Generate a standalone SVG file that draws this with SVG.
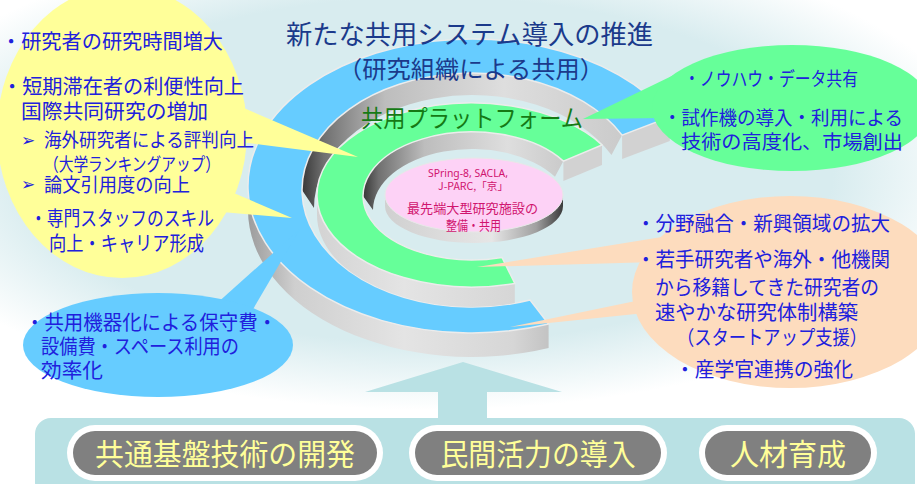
<svg xmlns="http://www.w3.org/2000/svg" width="917" height="484" viewBox="0 0 917 484">
<defs>
<style>
.jp{font-family:"Noto Sans CJK JP","Noto Sans",sans-serif;}
.bt{fill:#2020dd;font-size:20px;}
.tail{stroke:none;}
.face{stroke:#ececec;stroke-width:1.5;}
.btn-o{fill:#ffffff;}
.btn-i{fill:#808080;}
.btn-t{fill:#ffff99;font-size:30px;text-anchor:middle;}
.bul{font-family:"DejaVu Sans",sans-serif;font-size:17px;fill:#2020dd;}
</style>
<radialGradient id="bg" cx="0.5" cy="0.5" r="0.5">
<stop offset="0" stop-color="#d8ecef"/>
<stop offset="0.72" stop-color="#d8ecef"/>
<stop offset="1" stop-color="#ffffff"/>
</radialGradient>
<linearGradient id="owall" gradientUnits="userSpaceOnUse" x1="248" y1="0" x2="560" y2="0">
<stop offset="0" stop-color="#9c9c9c"/>
<stop offset="0.15" stop-color="#cfcfcf"/>
<stop offset="0.5" stop-color="#e4e4e4"/>
<stop offset="0.85" stop-color="#d6d6d6"/>
<stop offset="1" stop-color="#bdbdbd"/>
</linearGradient>
<linearGradient id="iwallB" gradientUnits="userSpaceOnUse" x1="300" y1="0" x2="640" y2="0">
<stop offset="0" stop-color="#333333"/>
<stop offset="0.07" stop-color="#707070"/>
<stop offset="0.25" stop-color="#bdbdbd"/>
<stop offset="0.6" stop-color="#dedede"/>
<stop offset="1" stop-color="#c8c8c8"/>
</linearGradient>
<linearGradient id="iwallG" gradientUnits="userSpaceOnUse" x1="362" y1="0" x2="570" y2="0">
<stop offset="0" stop-color="#333333"/>
<stop offset="0.08" stop-color="#707070"/>
<stop offset="0.3" stop-color="#bdbdbd"/>
<stop offset="0.7" stop-color="#dedede"/>
<stop offset="1" stop-color="#c8c8c8"/>
</linearGradient>
<linearGradient id="dwall" gradientUnits="userSpaceOnUse" x1="385" y1="0" x2="563" y2="0">
<stop offset="0" stop-color="#d0d0d0"/>
<stop offset="0.6" stop-color="#e6e6e6"/>
<stop offset="0.85" stop-color="#a0a0a0"/>
<stop offset="1" stop-color="#3a3a3a"/>
</linearGradient>
<clipPath id="holeB"><ellipse cx="472" cy="190" rx="170" ry="117"/></clipPath>
</defs>

<g id="background">
<rect x="0" y="0" width="917" height="484" fill="#ffffff"/>
<ellipse cx="430" cy="170" rx="560" ry="240" fill="url(#bg)"/>
</g>

<g id="panel">
<rect x="35" y="418" width="880" height="80" rx="16" fill="#b9e1e4"/>
</g>

<g id="rings">
<g id="ring-blue">
<path d="M548.6,324.1 A224,147 0 0 1 248,186 L248,210 A224,147 0 0 0 548.6,348.1 Z" fill="url(#owall)"/>
<path d="M302,190 A170,117 0 0 1 622.1,135.1 L611.5,155 A158,113 0 0 0 314,208 Z" fill="url(#iwallB)"/>
<path d="M622.1,135.1 L669.8,117 L669.8,141 L622.1,159.1 Z" fill="#d2d2d2"/>
<path class="face" d="M669.8,117 A224,147 0 1 0 548.6,324.1 L530.1,300 A170,117 0 1 1 622.1,135.1 Z" fill="#66ccff"/>
</g>
<g id="ring-green" clip-path="url(#holeB)">
<path d="M514.8,283.4 A155,92 0 0 1 317,195 L317,215 A155,92 0 0 0 514.8,303.4 Z" fill="url(#owall)"/>
<path d="M363,196 A109,64 0 0 1 563.4,161.1 L555,176.8 A99,61 0 0 0 373,210 Z" fill="url(#iwallG)"/>
<path d="M563.4,161.1 L602,144.9 L602,164.9 L563.4,181.1 Z" fill="#d2d2d2"/>
<path class="face" d="M602,144.9 A155,92 0 1 0 514.8,283.4 L502,257.5 A109,64 0 1 1 563.4,161.1 Z" fill="#66ff99"/>
</g>
<g id="disk">
<path d="M385,195 A89,37 0 0 0 563,195 L563,206 A89,37 0 0 1 385,206 Z" fill="url(#dwall)"/>
<ellipse cx="474" cy="195" rx="89" ry="37" fill="#fdd2f6" stroke="#e8e8e8" stroke-width="1"/>
<g class="jp" fill="#d0146e">
<text x="428" y="177" font-family="'Noto Sans','DejaVu Sans',sans-serif" font-size="10.5" textLength="80" lengthAdjust="spacingAndGlyphs">SPring-8, SACLA,</text>
<text x="438" y="190" font-size="10.5" textLength="70" lengthAdjust="spacingAndGlyphs">J-PARC,「京」</text>
<text x="407" y="213" font-size="13" textLength="131" lengthAdjust="spacingAndGlyphs">最先端大型研究施設の</text>
<text x="446" y="230" font-size="13" textLength="55" lengthAdjust="spacingAndGlyphs">整備・共用</text>
</g>
</g>
</g>

<g id="connectors">
<polygon class="tail" points="225,100 358,157 225,140" fill="#ffff99"/>
<polygon class="tail" points="222,188 292,218 222,212" fill="#ffff99"/>
<polygon class="tail" points="215,305 300,229 252,311" fill="#66ccff"/>
<polygon class="tail" points="680,72 583,119 665,118" fill="#66ff99"/>
<polygon class="tail" points="668,236 477,267 655,262" fill="#fddcbe"/>
<polygon class="tail" points="655,297 510,327 655,312" fill="#fddcbe"/>
<polygon id="up-arrow" points="463,362 562,392 487,392 487,420 438,420 438,392 365,392" fill="#b9e1e4"/>
</g>

<g id="title" class="jp">
<text x="286" y="44" font-size="26" fill="#1b3a8b" textLength="367" lengthAdjust="spacingAndGlyphs">新たな共用システム導入の推進</text>
<text x="338" y="78" font-size="24" fill="#1b3a8b" textLength="266" lengthAdjust="spacingAndGlyphs">（研究組織による共用）</text>
<text x="361" y="127" font-size="24" fill="#157a15" textLength="222" lengthAdjust="spacingAndGlyphs">共用プラットフォーム</text>
</g>

<g id="bubble-yellow">
<ellipse cx="122" cy="132" rx="125" ry="146" fill="#ffff99"/>
<g class="jp bt">
<text x="1" y="49" textLength="222" lengthAdjust="spacingAndGlyphs">・研究者の研究時間増大</text>
<text x="2" y="94" textLength="242" lengthAdjust="spacingAndGlyphs">・短期滞在者の利便性向上</text>
<text x="21" y="119" textLength="187" lengthAdjust="spacingAndGlyphs">国際共同研究の増加</text>
<text class="bul" x="21" y="146">➢</text>
<text x="44" y="147" font-size="19" textLength="210" lengthAdjust="spacingAndGlyphs">海外研究者による評判向上</text>
<text x="44" y="171" font-size="18" textLength="176" lengthAdjust="spacingAndGlyphs">（大学ランキングアップ）</text>
<text class="bul" x="21" y="190">➢</text>
<text x="44" y="192" font-size="19" textLength="146" lengthAdjust="spacingAndGlyphs">論文引用度の向上</text>
<text x="30" y="226" textLength="184" lengthAdjust="spacingAndGlyphs">・専門スタッフのスキル</text>
<text x="49" y="251" textLength="155" lengthAdjust="spacingAndGlyphs">向上・キャリア形成</text>
</g>
</g>

<g id="bubble-blue">
<ellipse cx="158" cy="345" rx="135" ry="52" fill="#66ccff"/>
<g class="jp bt">
<text x="25" y="330" textLength="252" lengthAdjust="spacingAndGlyphs">・共用機器化による保守費・</text>
<text x="41" y="354" textLength="198" lengthAdjust="spacingAndGlyphs">設備費・スペース利用の</text>
<text x="41" y="378" textLength="62" lengthAdjust="spacingAndGlyphs">効率化</text>
</g>
</g>

<g id="bubble-green">
<ellipse cx="792" cy="108" rx="140" ry="63" fill="#66ff99"/>
<g class="jp bt">
<text x="684" y="86" font-size="19" textLength="174" lengthAdjust="spacingAndGlyphs">・ノウハウ・データ共有</text>
<text x="663" y="125" font-size="19" textLength="240" lengthAdjust="spacingAndGlyphs">・試作機の導入・利用による</text>
<text x="681" y="149" font-size="19" textLength="222" lengthAdjust="spacingAndGlyphs">技術の高度化、市場創出</text>
</g>
</g>

<g id="bubble-peach">
<ellipse cx="790" cy="292" rx="158" ry="96" fill="#fddcbe"/>
<g class="jp bt">
<text x="636" y="231" textLength="254" lengthAdjust="spacingAndGlyphs">・分野融合・新興領域の拡大</text>
<text x="636" y="267" textLength="254" lengthAdjust="spacingAndGlyphs">・若手研究者や海外・他機関</text>
<text x="655" y="295" textLength="224" lengthAdjust="spacingAndGlyphs">から移籍してきた研究者の</text>
<text x="655" y="320" textLength="203" lengthAdjust="spacingAndGlyphs">速やかな研究体制構築</text>
<text x="677" y="345" textLength="190" lengthAdjust="spacingAndGlyphs">（スタートアップ支援）</text>
<text x="675" y="377" textLength="178" lengthAdjust="spacingAndGlyphs">・産学官連携の強化</text>
</g>
</g>

<g id="btn-kiban">
<rect class="btn-o" x="67" y="425" width="316" height="56" rx="28"/>
<rect class="btn-i" x="73" y="431" width="304" height="44" rx="22"/>
<text class="jp btn-t" x="225" y="465" textLength="260" lengthAdjust="spacingAndGlyphs">共通基盤技術の開発</text>
</g>
<g id="btn-minkan">
<rect class="btn-o" x="409" y="425" width="258" height="56" rx="28"/>
<rect class="btn-i" x="415" y="431" width="246" height="44" rx="22"/>
<text class="jp btn-t" x="538" y="465" textLength="195" lengthAdjust="spacingAndGlyphs">民間活力の導入</text>
</g>
<g id="btn-jinzai">
<rect class="btn-o" x="699" y="425" width="178" height="56" rx="28"/>
<rect class="btn-i" x="705" y="431" width="166" height="44" rx="22"/>
<text class="jp btn-t" x="788" y="465" textLength="116" lengthAdjust="spacingAndGlyphs">人材育成</text>
</g>
</svg>
